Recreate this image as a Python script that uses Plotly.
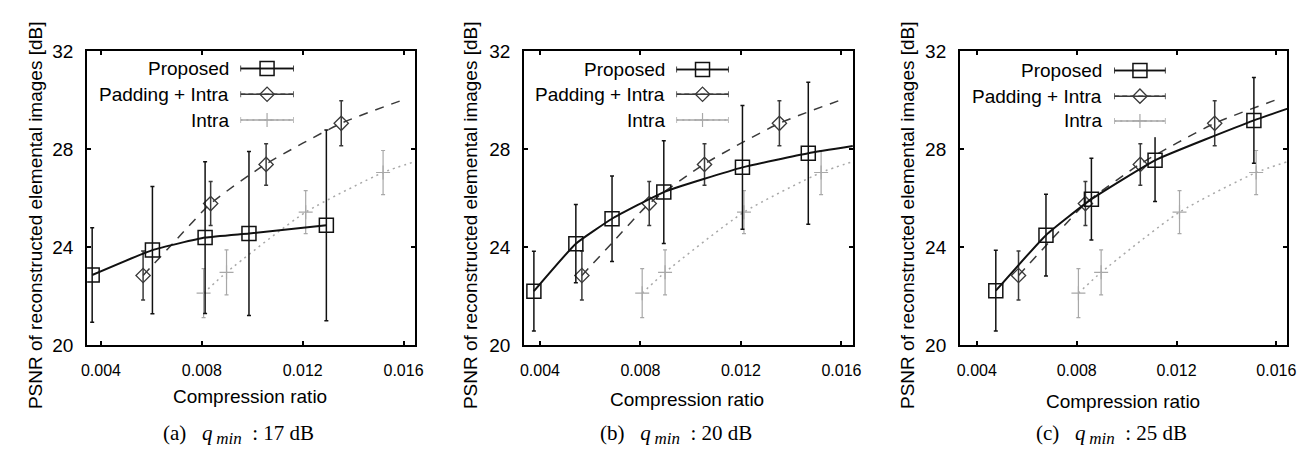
import plotly.graph_objects as go

W, H = 1309, 451

# ---------------- data ----------------
panel_tags = ["(a)", "(b)", "(c)"]
qmin_db = [17, 20, 25]
x_tick_vals = [0.004, 0.008, 0.012, 0.016]
x_tick_text = ["0.004", "0.008", "0.012", "0.016"]
y_tick_vals = [20, 24, 28, 32]
y_tick_text = ["20", "24", "28", "32"]
series_names = ["Proposed", "Padding + Intra", "Intra"]

# Proposed (depends on q_min)
prop_a_cr = [0.00365, 0.00604, 0.00813, 0.00987, 0.01294]
prop_a_psnr = [22.86, 23.88, 24.39, 24.56, 24.89]
prop_a_err = [1.93, 2.60, 3.10, 3.35, 3.90]
prop_a_curve_cr = [0.00365, 0.00604, 0.00813, 0.00987, 0.01294]
prop_a_curve_psnr = [22.86, 23.88, 24.39, 24.56, 24.89]

prop_b_cr = [0.00376, 0.00543, 0.00687, 0.00893, 0.01206, 0.01468]
prop_b_psnr = [22.20, 24.14, 25.16, 26.25, 27.26, 27.84]
prop_b_err = [1.63, 1.60, 1.75, 2.10, 2.53, 2.90]
prop_b_curve_cr = [0.00376, 0.00543, 0.00687, 0.00893, 0.01206, 0.01468, 0.01645]
prop_b_curve_psnr = [22.20, 24.14, 25.16, 26.25, 27.26, 27.84, 28.13]

prop_c_cr = [0.00476, 0.00677, 0.00859, 0.01114, 0.01510]
prop_c_psnr = [22.22, 24.49, 25.96, 27.55, 29.18]
prop_c_err = [1.65, 1.67, 1.67, 1.68, 1.75]
prop_c_curve_cr = [0.00476, 0.00677, 0.00859, 0.01114, 0.01510, 0.01645]
prop_c_curve_psnr = [22.22, 24.49, 25.96, 27.55, 29.18, 29.66]

# Padding + Intra (same in every panel)
pad_cr = [0.00567, 0.00835, 0.01055, 0.01353]
pad_psnr = [22.84, 25.78, 27.38, 29.06]
pad_err = [1.00, 0.90, 0.85, 0.92]
pad_curve_cr = [0.00567, 0.00695, 0.00835, 0.01055, 0.01353, 0.01610]
pad_curve_psnr = [22.84, 24.26, 25.78, 27.40, 29.06, 30.06]

# Intra (same in every panel)
intra_cr = [0.00807, 0.00898, 0.01212, 0.01519]
intra_psnr = [22.12, 22.97, 25.43, 27.05]
intra_err = [1.00, 0.92, 0.88, 0.90]
intra_curve_cr = [0.00807, 0.00898, 0.01212, 0.01519, 0.01647]
intra_curve_psnr = [22.12, 22.97, 25.43, 27.05, 27.50]

proposed = [
    (prop_a_cr, prop_a_psnr, prop_a_err, prop_a_curve_cr, prop_a_curve_psnr),
    (prop_b_cr, prop_b_psnr, prop_b_err, prop_b_curve_cr, prop_b_curve_psnr),
    (prop_c_cr, prop_c_psnr, prop_c_err, prop_c_curve_cr, prop_c_curve_psnr),
]

# ---------------- layout geometry (pixels) ----------------
frame_x = [(74, 406), (516, 849), (957, 1288)]
frame_y = (35, 343)
x_ranges = [(0.003451, 0.01647), (0.00337, 0.01647), (0.003327, 0.016436)]
ytitle_x = [22, 462, 904]
ytitle_y = 207
xtitle_pos = [(239, 397), (681, 400), (1122, 402)]
caption_x = [227, 670, 1110]
caption_y = 437
legend_text_right = [220, 661, 1103]
legend_sample = [(229, 283), (670, 723), (1113, 1165)]
legend_rows = [(53, 80, 107), (54, 80, 107), (55, 82, 108)]

FONT = "Liberation Sans"
SERIF = "Liberation Serif"
C_PROP = "#111111"
C_PAD = "#3a3a3a"
C_INTRA = "#a8a8a8"


def px(xp):
    return xp / W


def py(yp):
    return 1 - yp / H


fig = go.Figure()
layout = dict(
    width=W, height=H,
    margin=dict(l=0, r=0, t=0, b=0),
    paper_bgcolor="white", plot_bgcolor="white",
    showlegend=False,
    font=dict(family=FONT, color="black"),
)
annotations = []

for i in range(3):
    n = "" if i == 0 else str(i + 1)
    xa, ya = "x" + n, "y" + n
    cr, ps, er, ccr, cps = proposed[i]

    # Intra
    fig.add_trace(go.Scatter(x=intra_curve_cr, y=intra_curve_psnr, mode="lines",
                             line=dict(color=C_INTRA, width=1.5, dash="2px,4px", shape="spline", smoothing=0.6),
                             xaxis=xa, yaxis=ya, hoverinfo="skip"))
    fig.add_trace(go.Scatter(x=intra_cr, y=intra_psnr, mode="markers",
                             marker=dict(symbol="cross-thin-open", size=10, color=C_INTRA, line=dict(width=1.2)),
                             error_y=dict(type="data", array=intra_err, color=C_INTRA, thickness=1.2, width=2),
                             xaxis=xa, yaxis=ya, name=series_names[2]))
    # Padding + Intra
    fig.add_trace(go.Scatter(x=pad_curve_cr, y=pad_curve_psnr, mode="lines",
                             line=dict(color=C_PAD, width=1.5, dash="9px,8px", shape="spline", smoothing=0.6),
                             xaxis=xa, yaxis=ya, hoverinfo="skip"))
    fig.add_trace(go.Scatter(x=pad_cr, y=pad_psnr, mode="markers",
                             marker=dict(symbol="diamond-open", size=11, color=C_PAD, line=dict(width=1.3)),
                             error_y=dict(type="data", array=pad_err, color=C_PAD, thickness=1.5, width=2),
                             xaxis=xa, yaxis=ya, name=series_names[1]))
    # Proposed
    fig.add_trace(go.Scatter(x=ccr, y=cps, mode="lines",
                             line=dict(color=C_PROP, width=2, shape="spline", smoothing=0.4),
                             xaxis=xa, yaxis=ya, hoverinfo="skip"))
    fig.add_trace(go.Scatter(x=cr, y=ps, mode="markers",
                             marker=dict(symbol="square-open", size=14, color=C_PROP, line=dict(width=1.5)),
                             error_y=dict(type="data", array=er, color=C_PROP, thickness=1.5, width=2),
                             xaxis=xa, yaxis=ya, name=series_names[0]))

    x0, x1 = frame_x[i]
    layout["xaxis" + n] = dict(
        domain=[px(x0), px(x1)], range=list(x_ranges[i]), anchor=ya,
        tickvals=x_tick_vals, ticktext=x_tick_text,
        ticks="inside", ticklen=4, tickwidth=1.5, tickcolor="black",
        showline=True, linecolor="black", linewidth=2, mirror="ticks",
        showgrid=False, zeroline=False,
        tickfont=dict(family=FONT, size=16, color="black"),
        ticklabelstandoff=10,
    )
    layout["yaxis" + n] = dict(
        domain=[py(frame_y[1]), py(frame_y[0])], range=[20, 32], anchor=xa,
        tickvals=y_tick_vals, ticktext=y_tick_text,
        ticks="inside", ticklen=4, tickwidth=1.5, tickcolor="black",
        showline=True, linecolor="black", linewidth=2, mirror="ticks",
        showgrid=False, zeroline=False,
        tickfont=dict(family=FONT, size=19, color="black"),
        ticklabelstandoff=8,
    )

    # axis titles
    annotations.append(dict(text="PSNR of reconstructed elemental images [dB]", textangle=-90,
                            x=px(ytitle_x[i]), y=py(ytitle_y), xref="paper", yref="paper",
                            xanchor="center", yanchor="middle", showarrow=False,
                            font=dict(family=FONT, size=19, color="black")))
    annotations.append(dict(text="Compression ratio",
                            x=px(xtitle_pos[i][0]), y=py(xtitle_pos[i][1]), xref="paper", yref="paper",
                            xanchor="center", yanchor="middle", showarrow=False,
                            font=dict(family=FONT, size=19, color="black")))
    caption = (f"{panel_tags[i]}&nbsp;&nbsp; <i>q</i><sub> <span style='font-size:17px'><i>min</i></span></sub>"
               f"&nbsp; : {qmin_db[i]} dB")
    annotations.append(dict(text=caption,
                            x=px(caption_x[i]), y=py(caption_y), xref="paper", yref="paper",
                            xanchor="center", yanchor="middle", showarrow=False,
                            font=dict(family=SERIF, size=21, color="black")))

    # legend (text on the left, sample on the right, as in the original)
    ln = str(i + 4)
    lxa, lya = "x" + ln, "y" + ln
    s0, s1 = legend_sample[i]
    layout["xaxis" + ln] = dict(domain=[px(s0), px(s1)], range=[0, 1], visible=False,
                                anchor=lya, fixedrange=True)
    layout["yaxis" + ln] = dict(domain=[py(125), py(35)], range=[125, 35], visible=False,
                                anchor=lxa, fixedrange=True)
    rows = legend_rows[i]
    styles = [
        (C_PROP, None, "square-open", 14, 1.5),
        (C_PAD, "5px,3px", "diamond-open", 11, 1.3),
        (C_INTRA, "2px,4px", "cross-thin-open", 10, 1.2),
    ]
    for k, (col, dash, sym, sz, lw) in enumerate(styles):
        fig.add_trace(go.Scatter(x=[0, 1], y=[rows[k], rows[k]], mode="lines",
                                 line=dict(color=col, width=1.5, dash=dash),
                                 xaxis=lxa, yaxis=lya, hoverinfo="skip"))
        fig.add_trace(go.Scatter(x=[0.5], y=[rows[k]], mode="markers",
                                 marker=dict(symbol=sym, size=sz, color=col, line=dict(width=lw)),
                                 error_x=dict(type="constant", value=0.5, color=col, thickness=1.5, width=3),
                                 xaxis=lxa, yaxis=lya, hoverinfo="skip"))
        annotations.append(dict(text=series_names[k], x=px(legend_text_right[i]), y=py(rows[k]),
                                xref="paper", yref="paper", xanchor="right", yanchor="middle",
                                showarrow=False, font=dict(family=FONT, size=19, color="black")))

layout["annotations"] = annotations
fig.update_layout(**layout)
fig.write_html("out.html")
